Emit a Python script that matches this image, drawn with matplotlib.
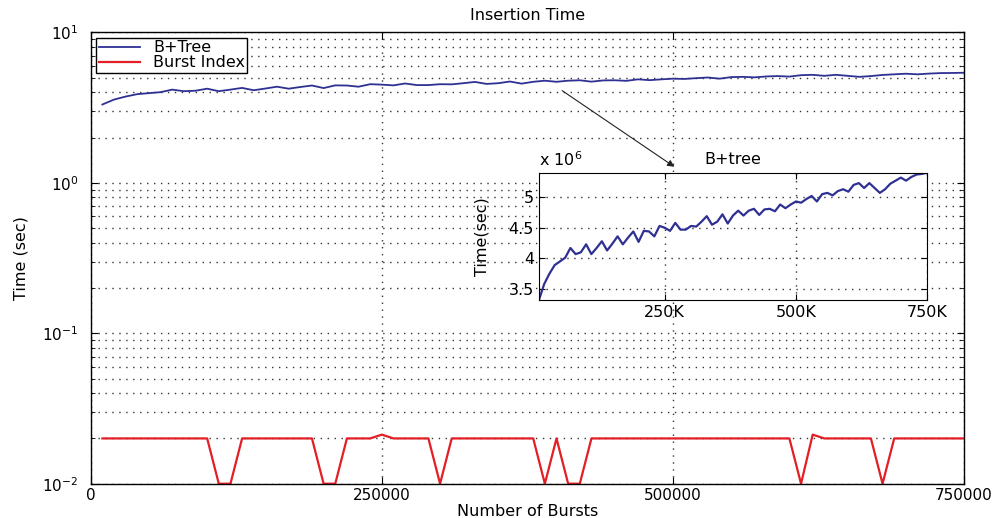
import numpy as np
import matplotlib
matplotlib.use("Agg")
import matplotlib.pyplot as plt
from matplotlib.ticker import LogLocator, NullFormatter

plt.rcParams['font.family'] = ['DejaVu Sans']

# dados
bursts = np.arange(10000, 750001, 10000)

btree = [3.32, 3.58, 3.75, 3.89, 3.95, 4.01, 4.17, 4.07, 4.10, 4.23,
         4.07, 4.17, 4.28, 4.13, 4.24, 4.36, 4.23, 4.34, 4.44, 4.27,
         4.45, 4.44, 4.36, 4.53, 4.50, 4.45, 4.58, 4.47, 4.47, 4.53,
         4.52, 4.60, 4.69, 4.55, 4.60, 4.72, 4.57, 4.70, 4.78, 4.70,
         4.78, 4.81, 4.71, 4.80, 4.81, 4.77, 4.88, 4.82, 4.88, 4.93,
         4.91, 4.97, 5.02, 4.93, 5.05, 5.07, 5.03, 5.10, 5.13, 5.09,
         5.20, 5.23, 5.15, 5.23, 5.15, 5.07, 5.13, 5.22, 5.27, 5.32,
         5.27, 5.33, 5.37, 5.38, 5.40]

burst_index = [0.02] * 75
for k in [110000, 120000, 200000, 210000, 300000, 390000, 410000, 420000,
          610000, 680000]:
    burst_index[k // 10000 - 1] = 0.01
burst_index[250000 // 10000 - 1] = 0.0212
burst_index[620000 // 10000 - 1] = 0.0212

x_ticks = [0, 250000, 500000, 750000]
inset_xticks = [250000, 500000, 750000]
inset_xlabels = ['250K', '500K', '750K']
inset_yticks = [3.5, 4, 4.5, 5]

azul = '#2e3192'
vermelho = '#e31e24'
pontilhado = (0, (1, 4))

fig = plt.figure(figsize=(9.98, 5.18), dpi=100)
ax = fig.add_axes([0.0909, 0.0662, 0.8751, 0.8711])

ax.semilogy(bursts, btree, color=azul, lw=1.3, label='B+Tree')
ax.semilogy(bursts, burst_index, color=vermelho, lw=1.6, label='Burst Index')
ax.set_xlim(0, 750000)
ax.set_ylim(0.01, 10)
ax.set_xticks(x_ticks)
ax.set_xticklabels([str(t) for t in x_ticks])
ax.yaxis.set_major_locator(LogLocator(base=10, numticks=10))
ax.yaxis.set_minor_locator(LogLocator(base=10, subs=np.arange(2, 10), numticks=10))
ax.yaxis.set_minor_formatter(NullFormatter())
ax.tick_params(which='both', direction='in', top=True, right=True, labelsize=11)
ax.tick_params(which='major', length=5)
ax.tick_params(which='minor', length=3)
ax.tick_params(axis='y', which='major', pad=9)
ax.tick_params(axis='x', which='major', pad=3)
ax.grid(True, which='major', axis='x', linestyle=pontilhado, color='#333333', lw=1.0)
ax.grid(True, which='both', axis='y', linestyle=pontilhado, color='#333333', lw=1.0)
for s in ax.spines.values():
    s.set_linewidth(1.0)
ax.set_title('Insertion Time', fontsize=11.5, pad=9)
ax.set_xlabel('Number of Bursts', fontsize=11.5)
ax.xaxis.set_label_coords(0.5, -0.045)
ax.set_ylabel('Time (sec)', fontsize=11.5, labelpad=10)
leg = ax.legend(loc='upper left', fontsize=11.5, fancybox=False, framealpha=1,
                edgecolor='black', borderaxespad=0.35, handlelength=2.6,
                handletextpad=0.8, borderpad=0.15, labelspacing=0.0,
                alignment='left')
leg.get_frame().set_linewidth(1.0)

# inset
axi = fig.add_axes([0.540, 0.4208, 0.3889, 0.2458])
axi.plot(bursts, btree, color=azul, lw=1.6)
axi.set_xlim(10000, 750000)
axi.set_ylim(3.32, 5.40)
axi.set_xticks(inset_xticks)
axi.set_xticklabels(inset_xlabels)
axi.set_yticks(inset_yticks)
axi.set_yticklabels(['3.5', '4', '4.5', '5'])
axi.tick_params(direction='in', top=True, right=True, labelsize=11.5, length=4)
axi.grid(True, linestyle=pontilhado, color='#333333', lw=1.0)
axi.set_title('B+tree', fontsize=11.5, pad=6)
axi.set_ylabel('Time(sec)', fontsize=11.5, labelpad=14)
axi.text(0.0, 1.03, r'x 10$^6$', transform=axi.transAxes, fontsize=11.5,
         va='bottom', ha='left')

ax.annotate('', xy=(0.678, 0.675), xycoords='figure fraction',
            xytext=(0.561, 0.828), textcoords='figure fraction',
            arrowprops=dict(arrowstyle='-|>', color='#222222', lw=0.8))

fig.savefig('out.png', dpi=100)
